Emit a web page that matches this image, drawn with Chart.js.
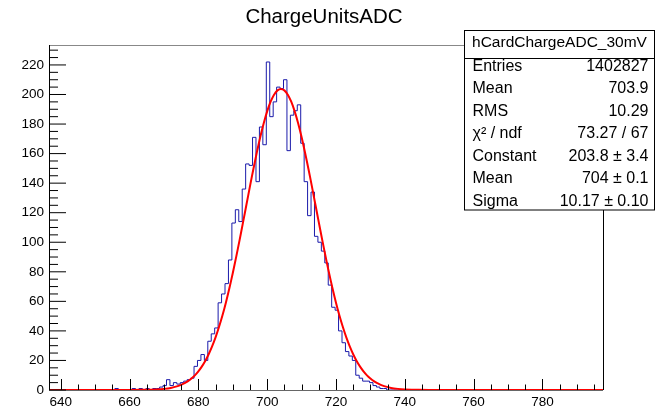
<!DOCTYPE html>
<html>
<head>
<meta charset="utf-8">
<script src="https://cdn.jsdelivr.net/npm/chart.js@4"></script>
<style>
  body { margin: 0; background: #fff; }
  canvas { display: block; }
</style>
</head>
<body>
<canvas id="grafico" width="656" height="411"></canvas>
<script>
// histogram: 1-unit bins, lower edge of bin i at binStart + i - 0.25
const binStart = 655;
const counts = [
  0, 0, 1, 0, 0, 0, 0, 1, 0, 1,        // 655-664
  0, 1, 0, 1, 1, 2, 3, 7, 3, 5,        // 665-674
  4, 5, 6, 7, 8, 16, 20, 24, 20, 33,   // 675-684
  38, 42, 59, 65, 72, 88, 113, 122, 114, 136,     // 685-694
  153, 152, 171, 141, 178, 166, 222, 185, 195, 205, // 695-704
  204, 210, 162, 186, 189, 193, 167, 141, 118, 134, // 705-714
  104, 100, 94, 86, 71, 56, 54, 40, 32, 26,  // 715-724
  23, 20, 10, 8, 6, 6, 5, 3, 2, 1,     // 725-734
  1, 0, 0, 0, 0, 0                     // 735-740
];

// gaus fit as drawn
const fitX = [636.6, 660, 664, 668, 670, 672, 674, 675, 676, 677, 678, 679, 680, 681, 682, 683, 684, 685,
  686, 687, 688, 689, 690, 691, 692, 693, 694, 695, 696, 697, 698, 699, 700, 701, 702, 703, 704,
  705, 706, 707, 708, 709, 710, 711, 712, 713, 714, 715, 716, 717, 718, 719, 720, 721, 722, 723,
  724, 725, 726, 727, 728, 729, 730, 731, 732, 733, 734, 736, 738, 740, 744, 750, 797.6];
const fitY = [0, 0, 0.09, 0.39, 0.76, 1.4, 2.6, 3.5, 4.6, 6.0, 7.8, 9.9, 12.6, 15.8, 19.6, 24.2, 29.5, 35.6,
  42.6, 50.4, 59.1, 68.7, 79.0, 90.1, 101.6, 113.6, 125.7, 137.8, 149.6, 160.8, 171.3, 180.6, 188.6, 195.1, 199.9, 202.8, 203.8,
  202.8, 199.9, 195.1, 188.6, 180.6, 171.3, 160.8, 149.6, 137.8, 125.7, 113.6, 101.6, 90.1, 79.0, 68.7, 59.1, 50.4, 42.6, 35.6,
  29.5, 24.2, 19.6, 15.8, 12.6, 9.9, 7.8, 6.0, 4.6, 3.5, 2.6, 1.4, 0.76, 0.39, 0.09, 0, 0];

const xTicks = [640, 660, 680, 700, 720, 740, 760, 780];
const yTicks = [0, 20, 40, 60, 80, 100, 120, 140, 160, 180, 200, 220];

const titulo = 'ChargeUnitsADC';
const statsTitle = 'hCardChargeADC_30mV';
const statsNames = ['Entries', 'Mean', 'RMS', 'χ² / ndf', 'Constant', 'Mean', 'Sigma'];
const statsValues = ['1402827', '703.9', '10.29', '73.27 / 67', '203.8 ± 3.4', '704 ± 0.1', '10.17 ± 0.10'];

const fuente = '"Liberation Sans", Arial, Helvetica, sans-serif';

// step points at lower bin edges
const histPts = [{ x: 636.6, y: 0 }];
counts.forEach((c, i) => histPts.push({ x: binStart + i - 0.25, y: c }));
histPts.push({ x: binStart + counts.length - 0.25, y: 0 });
histPts.push({ x: 797.6, y: 0 });

const fitPts = fitX.map((x, i) => ({ x, y: fitY[i] }));

const marcoRoot = {
  id: 'marcoRoot',
  afterDraw(chart) {
    const c = chart.ctx;
    const xs = chart.scales.x, ys = chart.scales.y;
    const a = chart.chartArea;
    c.save();
    // frame
    c.lineWidth = 1;
    c.strokeStyle = '#888';
    c.beginPath(); c.moveTo(a.left, a.top + 0.5); c.lineTo(a.right, a.top + 0.5); c.stroke();
    c.strokeStyle = '#000';
    c.beginPath();
    c.moveTo(a.right + 0.5, a.top); c.lineTo(a.right + 0.5, a.bottom);
    c.moveTo(a.left + 0.5, a.top); c.lineTo(a.left + 0.5, a.bottom);
    c.stroke();
    c.strokeStyle = '#666';
    c.beginPath(); c.moveTo(a.left, a.bottom + 0.5); c.lineTo(a.right, a.bottom + 0.5); c.stroke();

    // x ticks
    c.strokeStyle = '#000';
    c.beginPath();
    for (let v = 640; v <= 797; v += 5) {
      const px = Math.round(xs.getPixelForValue(v)) + 0.5;
      const len = v % 20 === 0 ? 11 : 5.5;
      c.moveTo(px, a.bottom); c.lineTo(px, a.bottom - len);
    }
    // y ticks
    for (let v = 0; v <= 233; v += 5) {
      const py = ys.getPixelForValue(v);
      const len = v % 20 === 0 ? 17 : 9;
      c.moveTo(a.left, py); c.lineTo(a.left + len, py);
    }
    c.stroke();

    // title
    c.fillStyle = '#000';
    c.font = '20.5px ' + fuente;
    c.textAlign = 'center';
    c.textBaseline = 'middle';
    c.fillText(titulo, 324, 17);

    // stats box
    const bx = 464.5, by = 30.5, bw = 190, bh = 179.5;
    c.fillStyle = '#fff';
    c.fillRect(bx, by, bw, bh);
    c.strokeStyle = '#000';
    c.strokeRect(bx, by, bw, bh);
    c.beginPath(); c.moveTo(bx, 58.5); c.lineTo(bx + bw, 58.5); c.stroke();
    c.fillStyle = '#000';
    c.font = '15.5px ' + fuente;
    c.textAlign = 'center';
    c.fillText(statsTitle, bx + bw / 2, 43);
    c.font = '16px ' + fuente;
    statsNames.forEach((n, i) => {
      const y = 66.5 + i * 22.5;
      c.textAlign = 'left';
      c.fillText(n, 472.5, y);
      c.textAlign = 'right';
      c.fillText(statsValues[i], 648.5, y);
    });
    c.restore();
  }
};

const ctx = document.getElementById('grafico').getContext('2d');
const chart = new Chart(ctx, {
  type: 'line',
  data: {
    datasets: [{
      label: 'gaus',
      data: fitPts,
      borderColor: '#ff0000',
      borderWidth: 2,
      pointRadius: 0,
      tension: 0.3,
      fill: false
    }, {
      label: 'hCardChargeADC_30mV',
      data: histPts,
      borderColor: '#1a1aaa',
      borderWidth: 1,
      pointRadius: 0,
      stepped: 'after',
      fill: false
    }]
  },
  options: {
    responsive: false,
    animation: false,
    layout: { padding: { left: 0, right: 53, top: 45, bottom: 0 } },
    plugins: { legend: { display: false }, tooltip: { enabled: false } },
    scales: {
      x: {
        type: 'linear', min: 636.6, max: 797.6,
        grid: { display: false, drawTicks: false },
        border: { display: false },
        afterBuildTicks: s => { s.ticks = xTicks.map(v => ({ value: v })); },
        afterFit: s => { s.height = 21; },
        ticks: { font: { family: fuente, size: 13.5 }, color: '#000', padding: 4, maxRotation: 0, autoSkip: false }
      },
      y: {
        min: 0, max: 233.5,
        grid: { display: false, drawTicks: false },
        border: { display: false },
        afterBuildTicks: s => { s.ticks = yTicks.map(v => ({ value: v })); },
        afterFit: s => { s.width = 49; },
        ticks: { font: { family: fuente, size: 13.5 }, color: '#000', padding: 5, autoSkip: false }
      }
    }
  },
  plugins: [marcoRoot]
});
</script>
</body>
</html>
